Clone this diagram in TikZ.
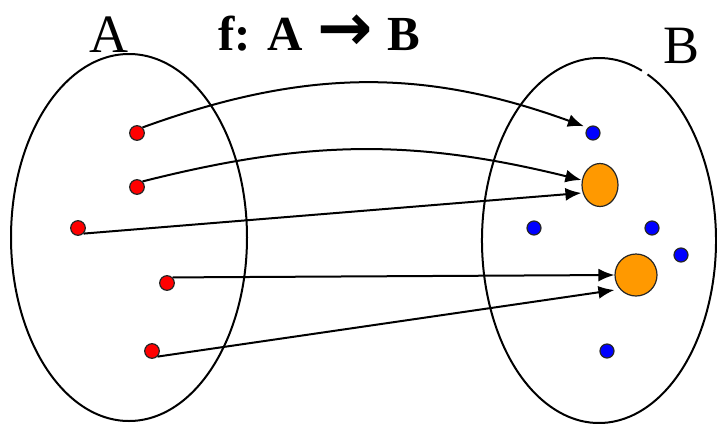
\documentclass[tikz,border=0pt]{standalone}
\usepackage{fontspec}
\setmainfont{Liberation Serif}
\newfontfamily\arrowfont{DejaVu Sans}[Scale=1.35]
\usepackage{xcolor}
\usetikzlibrary{arrows.meta, shapes.geometric}
\definecolor{dotorange}{RGB}{255,153,0}

\begin{document}
\begin{tikzpicture}[x=0.5pt, y=0.5pt, line width=1pt,
        reddot/.style={circle, draw=black!85, line width=0.6pt, fill=red, minimum size=7.3pt, inner sep=0pt},
        bluedot/.style={circle, draw=black!85, line width=0.6pt, fill=blue, minimum size=7pt, inner sep=0pt},
        imgdot/.style={draw=black!85, line width=0.6pt, fill=dotorange, inner sep=0pt},
        setname/.style={font=\fontsize{27}{29}\selectfont, anchor=base},
        maparrow/.style={-{Latex[length=8pt, width=6.5pt]}, line width=1pt}]
        \useasboundingbox (0,0) rectangle (717,425);

        % 集合 A 与 B
        \draw (129,187.5) ellipse (118 and 183.5);
        \draw ([shift={(68.5:117 and 182.5)}]599,184.5) arc[start angle=68.5, end angle=425.5, x radius=117, y radius=182.5];
        \node[setname] (nameA) at (109,373) {A};
        \node[setname] (nameB) at (681,362) {B};
        \node[font=\bfseries\fontsize{24.5}{26}\selectfont, anchor=base] (title) at (319,375)
            {f: A\hspace{0.05em} {\arrowfont\bfseries →}\hspace{0.05em} B};

        % 定义域中的点
        \node[reddot] (r1) at (137,292) {};
        \node[reddot] (r2) at (137,238) {};
        \node[reddot] (r3) at (78,197) {};
        \node[reddot] (r4) at (167,142) {};
        \node[reddot] (r5) at (152,74) {};

        % 陪域中的点
        \node[bluedot] (b1) at (593,292) {};
        \node[bluedot] (b2) at (534,197) {};
        \node[bluedot] (b3) at (652,197) {};
        \node[bluedot] (b4) at (681,170) {};
        \node[bluedot] (b5) at (607,74) {};
        \node[imgdot, ellipse, minimum width=18pt, minimum height=21.5pt] (o1) at (600,240) {};
        \node[imgdot, circle, minimum size=21pt] (o2) at (636,150) {};

        % 映射
        \draw[maparrow, shorten >=2pt] (r1.north east) to[bend left=20] (b1.north west);
        \draw[maparrow] (r2.north east) to[bend left=14] ([yshift=2.5pt]o1.west);
        \draw[maparrow] (r3.south east) -- ([yshift=-4pt]o1.west);
        \draw[maparrow] (r4.north east) -- (o2.west);
        \draw[maparrow] (r5.south east) -- ([yshift=-7.5pt]o2.west);
    \end{tikzpicture}
\end{document}
